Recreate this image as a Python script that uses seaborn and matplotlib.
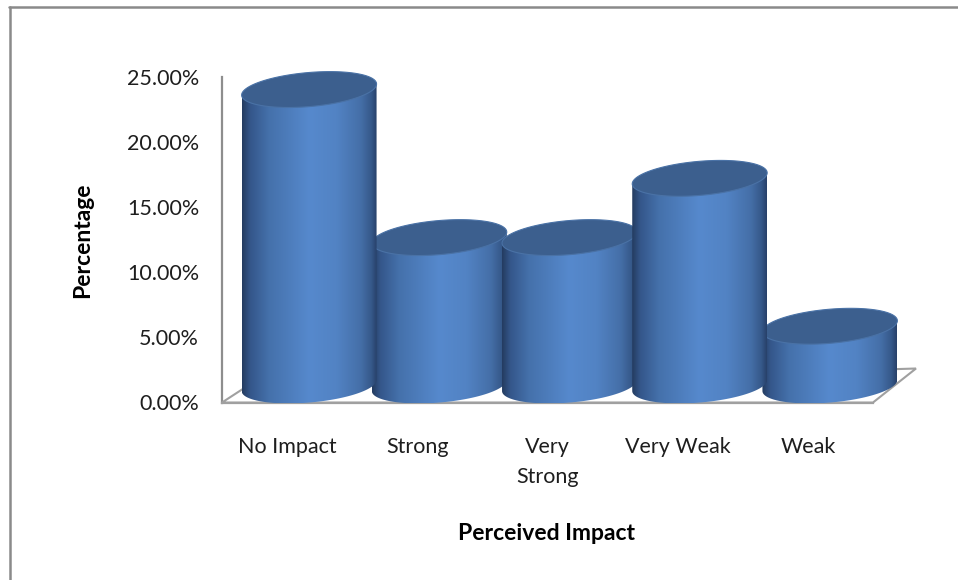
import numpy as np
import pandas as pd
import matplotlib
matplotlib.use("Agg")
import matplotlib.pyplot as plt
import seaborn as sns
from matplotlib.ticker import PercentFormatter
from matplotlib.patches import Polygon
from matplotlib.lines import Line2D
from matplotlib.colors import LinearSegmentedColormap

# ---- data -------------------------------------------------------------
categories = ["No Impact", "Strong", "Very Strong", "Very Weak", "Weak"]
tick_labels = ["No Impact", "Strong", "Very\nStrong", "Very Weak", "Weak"]
percentages = [0.2273, 0.1136, 0.1136, 0.1591, 0.0455]
y_ticks = [0.00, 0.05, 0.10, 0.15, 0.20, 0.25]

# ---- style ------------------------------------------------------------
W, H = 958, 580
sns.set_theme(style="white")
plt.rcParams["font.family"] = ["Lato", "DejaVu Sans"]
GRID_GRAY = "#8e8e8e"
FLOOR_GRAY = "#a0a0a0"
TEXT = "#1e1e1e"
TOP_FACE = "#3c5f8e"
side_cmap = LinearSegmentedColormap.from_list(
    "cyl",
    [(0.00, "#243c60"), (0.06, "#34568a"), (0.20, "#4571ab"),
     (0.50, "#5689cd"), (0.70, "#5283c4"), (0.88, "#456fa8"),
     (0.96, "#36598a"), (1.00, "#28416a")])

fig = plt.figure(figsize=(W / 100, H / 100), dpi=100)
fig.patch.set_facecolor("white")

# value axis / floor front edge, in pixels from the top-left corner
ax_left, ax_right, ax_top, ax_bottom = 222, 873, 77, 402.5
ax = fig.add_axes([ax_left / W, 1 - ax_bottom / H,
                   (ax_right - ax_left) / W, (ax_bottom - ax_top) / H])

df = pd.DataFrame({"Perceived Impact": categories, "Percentage": percentages})
sns.barplot(data=df, x="Perceived Impact", y="Percentage", width=1.04,
            color="#4f81bd", ax=ax)
ax.set_xlim(-0.5, 4.5)
ax.set_ylim(0, 0.25)
ax.set_yticks(y_ticks)
ax.yaxis.set_major_formatter(PercentFormatter(1.0, decimals=2))
ax.set_xticks(range(len(categories)), tick_labels)
ax.set_facecolor("none")

for side in ["top", "right"]:
    ax.spines[side].set_visible(False)
for side in ["left", "bottom"]:
    ax.spines[side].set_color(GRID_GRAY)
    ax.spines[side].set_linewidth(1.6)
ax.spines["bottom"].set_color(FLOOR_GRAY)

ax.tick_params(axis="y", length=6.5, width=1.5, color=GRID_GRAY,
               labelsize=15.5, labelcolor=TEXT, pad=10)
ax.tick_params(axis="x", length=0, labelsize=15.5, labelcolor=TEXT, pad=25)
for lbl in ax.get_xticklabels():
    lbl.set_linespacing(1.6)

ax.set_ylabel("Percentage", fontsize=16.5, fontweight="bold", color="black")
ax.yaxis.set_label_coords((83 - ax_left) / (ax_right - ax_left), 0.5)
ax.yaxis.label.set_va("center")
ax.set_xlabel("Perceived Impact", fontsize=16.5, fontweight="bold",
              color="black")
ax.xaxis.set_label_coords(0.499, -(533 - ax_bottom) / (ax_bottom - ax_top))
ax.xaxis.label.set_va("center")

# ---- 3-D floor and cylinders on a pixel-space overlay -----------------
ov = fig.add_axes([0, 0, 1, 1])
ov.set_xlim(0, W)
ov.set_ylim(0, H)
ov.axis("off")
ov.patch.set_visible(False)
ov.set_autoscale_on(False)

# outer chart frame
ov.add_line(Line2D([9, W], [H - 7, H - 7], color="#8a8a8a", lw=1.8))
ov.add_line(Line2D([10, 10], [0, H - 7], color="#8a8a8a", lw=1.8))

# floor (front edge is the bottom spine)
fl = (ax_left, H - ax_bottom)
fr = (ax_right, H - ax_bottom)
bl = (ax_left + 20, H - ax_bottom + 13)
br = (ax_right + 43, H - ax_bottom + 34)
ov.add_patch(Polygon([fl, fr, br, bl], closed=True, facecolor="white",
                     edgecolor=FLOOR_GRAY, lw=1.5, zorder=1))

DEPTH_DX, DEPTH_DY = 22, 17      # projection of the floor depth
ELL_B = 17                        # half-height of the cylinder ends
TILT = np.deg2rad(5)


def ellipse_pts(cx, cy, a, b, phis):
    ct, st = np.cos(TILT), np.sin(TILT)
    x = cx + a * np.cos(phis) * ct - b * np.sin(phis) * st
    y = cy + a * np.cos(phis) * st + b * np.sin(phis) * ct
    return np.column_stack([x, y])


bars = list(ax.patches)
order = sorted(range(len(bars)), key=lambda i: (bars[i].get_height(), i))
for rank, i in enumerate(order):
    p = bars[i]
    x0, w, h = p.get_x(), p.get_width(), p.get_height()
    (X0, Y0), (X1, Y1) = ax.transData.transform([(x0, 0), (x0 + w, h)])
    p.set_visible(False)

    cx = (X0 + X1) / 2 + DEPTH_DX
    a = (X1 - X0) / 2
    yb = Y0 + DEPTH_DY
    yt = Y1 + DEPTH_DY
    phr = np.arctan2(-ELL_B * np.sin(TILT), a * np.cos(TILT))
    phl = phr + np.pi
    arc = np.linspace(phl, phr + 2 * np.pi, 80)

    body = np.vstack([ellipse_pts(cx, yt, a, ELL_B, np.array([phl])),
                      ellipse_pts(cx, yb, a, ELL_B, arc),
                      ellipse_pts(cx, yt, a, ELL_B, np.array([phr]))])
    z = 3 + rank * 3
    clip = Polygon(body, closed=True, facecolor="none", edgecolor="none",
                   zorder=z)
    ov.add_patch(clip)
    grad = np.linspace(0, 1, 256)[None, :]
    im = ov.imshow(grad, cmap=side_cmap, aspect="auto", origin="lower",
                   extent=[body[:, 0].min(), body[:, 0].max(),
                           body[:, 1].min(), body[:, 1].max()],
                   interpolation="bilinear", zorder=z)
    im.set_clip_path(clip)

    top = ellipse_pts(cx, yt, a, ELL_B, np.linspace(0, 2 * np.pi, 160))
    ov.add_patch(Polygon(top, closed=True, facecolor=TOP_FACE,
                         edgecolor="#4a72a6", lw=0.8, zorder=z + 1))

ov.set_xlim(0, W)
ov.set_ylim(0, H)

fig.savefig("out.png", dpi=100, facecolor="white")
